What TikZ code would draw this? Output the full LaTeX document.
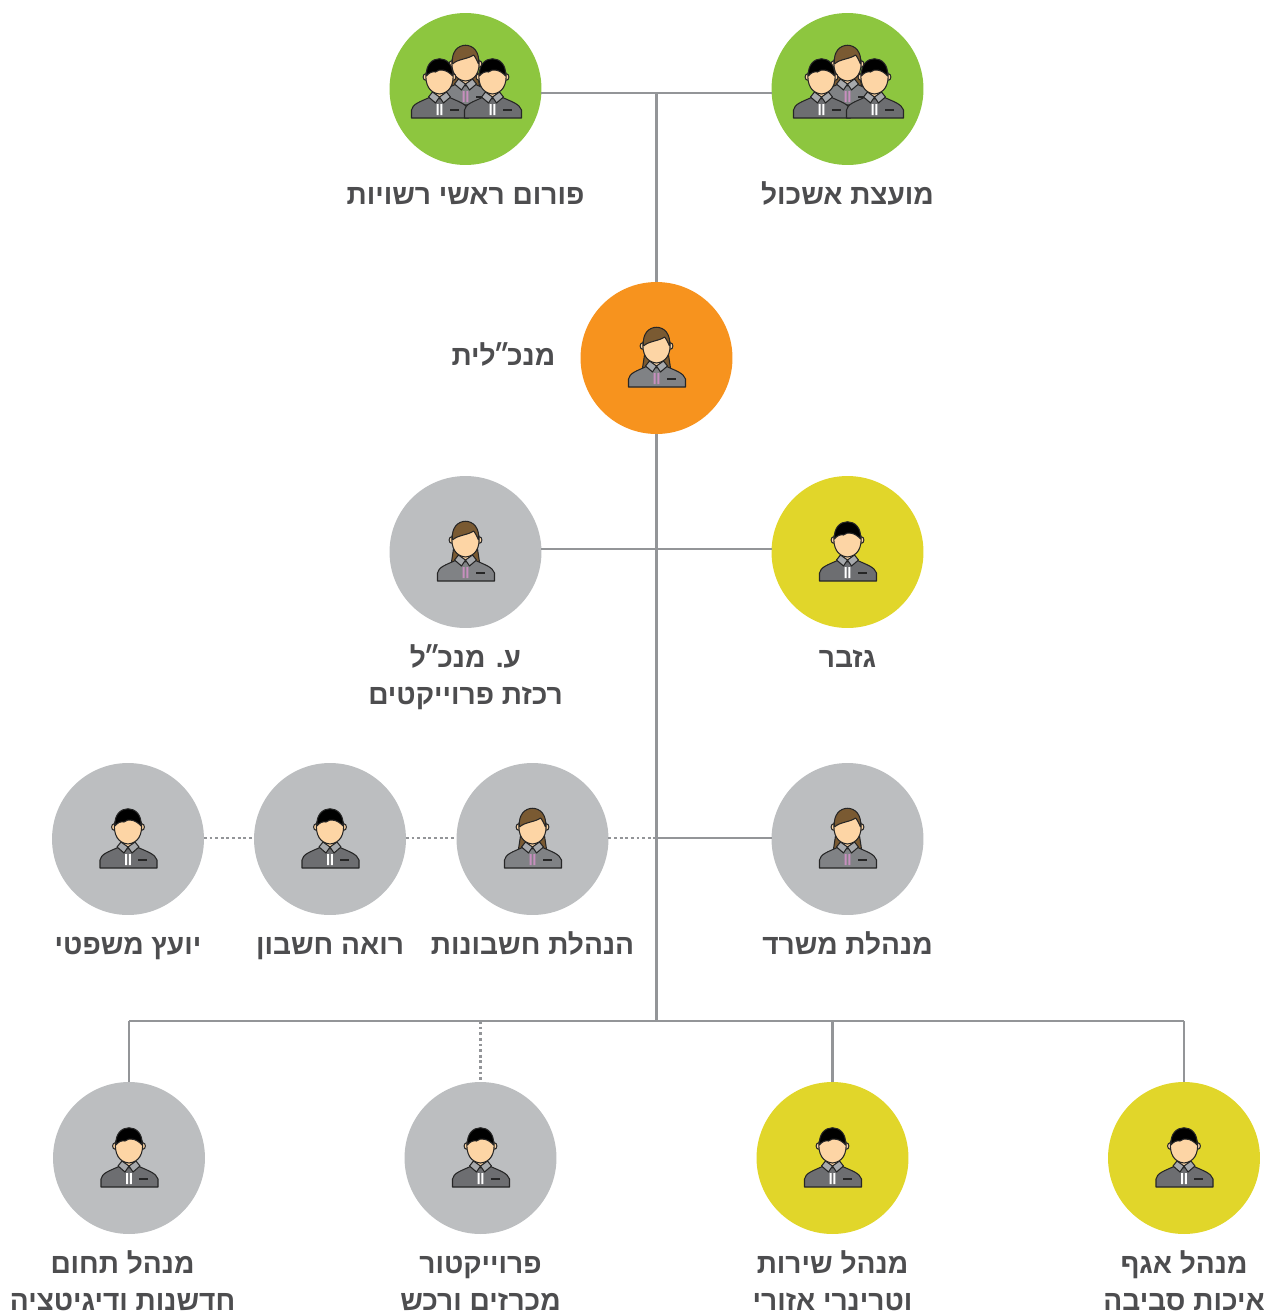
\documentclass[tikz,border=0pt]{standalone}
\usepackage{fontspec}
\setmainfont[Script=Hebrew]{Liberation Sans}
\TeXXeTstate=1
\usetikzlibrary{positioning}
\definecolor{linegrey}{HTML}{939598}
\definecolor{textgrey}{HTML}{4D4D4F}
\definecolor{circgrey}{HTML}{BCBEC0}
\definecolor{circgreen}{HTML}{8DC63F}
\definecolor{circorange}{HTML}{F7931E}
\definecolor{circyellow}{HTML}{E1D62A}
\definecolor{skin}{HTML}{FDD5A5}
\definecolor{hairbrown}{HTML}{7A5A32}
\definecolor{suitdark}{HTML}{6D6E71}
\definecolor{suitlight}{HTML}{808285}
\definecolor{collar}{HTML}{A7A9AC}
\definecolor{tiepink}{HTML}{C78FBE}
\newcommand{\heb}[1]{\vrule width 0pt height 14pt depth 5pt\beginR #1\endR}
\tikzset{
  main node/.style={circle,minimum size=3.04cm,inner sep=0pt,outer sep=0pt},
  text node/.style={align=center,text=textgrey,font=\fontsize{16}{21}\selectfont\bfseries,inner sep=0pt},
  link/.style={draw=linegrey,line width=1.6pt},
  dot link/.style={link,dash pattern=on 1.6pt off 1.6pt},
  outline/.style={draw=black!85,line width=0.6pt,line join=round},
  bust/.pic={
    \path[outline,fill=#1] (-28,29) -- (-28,21) .. controls (-27,15) and (-20,13) .. (-9,8)
      -- (9,8) .. controls (20,13) and (27,15) .. (29,21) -- (29,29) -- cycle;
    \path[outline,fill=skin] (-5,-2) -- (-5,6) -- (0,10) -- (5,6) -- (5,-2) -- cycle;
    \path[outline,fill=collar] (-7,3) -- (0,8) -- (-4,14) -- (-11,8) -- cycle;
    \path[outline,fill=collar] (7,3) -- (0,8) -- (4,14) -- (11,8) -- cycle;
    \fill[black!85] (10,20.2) rectangle (19,21.6);
  },
  head/.pic={
    \path[outline,fill=skin] (-14,-12) ellipse (2.4 and 3.2) (14,-12) ellipse (2.4 and 3.2);
    \path[outline,fill=skin] (-13.5,-16) .. controls (-14.5,-4) and (-10,4) .. (0,5)
      .. controls (10,4) and (14.5,-4) .. (13.5,-16) .. controls (10,-28) and (-10,-28) .. (-13.5,-16) -- cycle;
  },
  man/.pic={
    \pic {bust=suitdark};
    \fill[white] (-2.8,15) rectangle (-0.8,26) (0.8,15) rectangle (2.8,26);
    \pic {head};
    \path[outline,fill=black] (-13,-13) .. controls (-15,-36) and (15,-36) .. (13,-13)
      .. controls (8,-19) and (0,-21) .. (-4,-17) .. controls (-7,-18) and (-11,-16) .. (-13,-13) -- cycle;
  },
  woman/.pic={
    \path[outline,fill=hairbrown] (-10,-16) -- (-14,10) -- (14,10) -- (10,-16) -- cycle;
    \pic {bust=suitlight};
    \fill[tiepink] (-2.8,15) rectangle (-0.8,26) (0.8,15) rectangle (2.8,26);
    \pic {head};
    \path[outline,fill=hairbrown] (-13,-12) .. controls (-16,-37) and (16,-37) .. (13,-12)
      .. controls (11,-17) and (9,-20) .. (8,-21) .. controls (3,-17) and (-8,-17) .. (-13,-12) -- cycle;
  },
  crowd/.pic={
    \pic at (0,-13) {woman};
    \pic at (-26,0) {man};
    \pic at (27,0) {man};
  },
}
\begin{document}
\begin{tikzpicture}[x=0.02cm,y=-0.02cm,node distance=0.3cm]
  \useasboundingbox (0,0) rectangle (1264,1312);

  \node[main node,fill=circgreen] (forum) at (465.5,89) {};
  \node[main node,fill=circgreen] (council) at (847.5,89) {};
  \node[main node,fill=circorange] (ceo) at (656.5,358) {};
  \node[main node,fill=circgrey] (deputy) at (465.5,552) {};
  \node[main node,fill=circyellow] (treasurer) at (847.5,552) {};
  \node[main node,fill=circgrey] (legal) at (128,839) {};
  \node[main node,fill=circgrey] (auditor) at (330,839) {};
  \node[main node,fill=circgrey] (accounts) at (532.5,839) {};
  \node[main node,fill=circgrey] (office) at (847.5,839) {};
  \node[main node,fill=circgrey] (innovation) at (129,1158) {};
  \node[main node,fill=circgrey] (projects) at (480.5,1158) {};
  \node[main node,fill=circyellow] (vet) at (832.5,1158) {};
  \node[main node,fill=circyellow] (environment) at (1184,1158) {};

  \pic at (forum) {crowd};
  \pic at (council) {crowd};
  \pic at (ceo) {woman};
  \pic at (deputy) {woman};
  \pic at (treasurer) {man};
  \pic at (legal) {man};
  \pic at (auditor) {man};
  \pic at (accounts) {woman};
  \pic at (office) {woman};
  \pic at (innovation) {man};
  \pic at (projects) {man};
  \pic at (vet) {man};
  \pic at (environment) {man};

  \node[text node,below=of council] (councilText) {\heb{מועצת אשכול}};
  \node[text node,below=of forum] (forumText) {\heb{פורום ראשי רשויות}};
  \node[text node,left=0.5cm of ceo] (ceoText) {\heb{מנכ\kern-2pt״\kern-1.5ptלית}};
  \node[text node,below=of deputy] (deputyText) {\heb{ע. מנכ\kern-2pt״\kern-1.5ptל}\\ \heb{רכזת פרוייקטים}};
  \node[text node,below=of treasurer] (treasurerText) {\heb{גזבר}};
  \node[text node,below=of legal] (legalText) {\heb{יועץ משפטי}};
  \node[text node,below=of auditor] (auditorText) {\heb{רואה חשבון}};
  \node[text node,below=of accounts] (accountsText) {\heb{הנהלת חשבונות}};
  \node[text node,below=of office] (officeText) {\heb{מנהלת משרד}};
  \node[text node,below=of innovation,xshift=-0.13cm] (innovationText) {\heb{מנהל תחום}\\ \heb{חדשנות ודיגיטציה}};
  \node[text node,below=of projects] (projectsText) {\heb{פרוייקטור}\\ \heb{מכרזים ורכש}};
  \node[text node,below=of vet] (vetText) {\heb{מנהל שירות}\\ \heb{וטרינרי אזורי}};
  \node[text node,below=of environment] (environmentText) {\heb{מנהל אגף}\\ \heb{איכות סביבה}};

  \coordinate (topHub) at (656.5,93);
  \coordinate (deputyHub) at (656.5,549);
  \coordinate (officeHub) at (656.5,838);
  \coordinate (bottomHub) at (656.5,1021);
  \coordinate (bottomLeft) at (129,1021);
  \coordinate (bottomRight) at (1184,1021);
  \coordinate (bottomProjects) at (480.5,1021);
  \coordinate (bottomVet) at (832.5,1021);

  \path[link]
  (forum.east |- topHub) edge (council.west |- topHub)
  (topHub) edge (ceo)
  (ceo) edge (bottomHub)
  (deputy.east |- deputyHub) edge (treasurer.west |- deputyHub)
  (officeHub) edge (office.west |- officeHub)
  (bottomLeft) edge (bottomRight)
  (bottomLeft) edge (innovation)
  (bottomVet) edge (vet)
  (bottomRight) edge (environment);

  \path[dot link]
  (legal.east |- officeHub) edge (auditor.west |- officeHub)
  (auditor.east |- officeHub) edge (accounts.west |- officeHub)
  (accounts.east |- officeHub) edge (officeHub)
  (bottomProjects) edge (projects);
\end{tikzpicture}
\end{document}
